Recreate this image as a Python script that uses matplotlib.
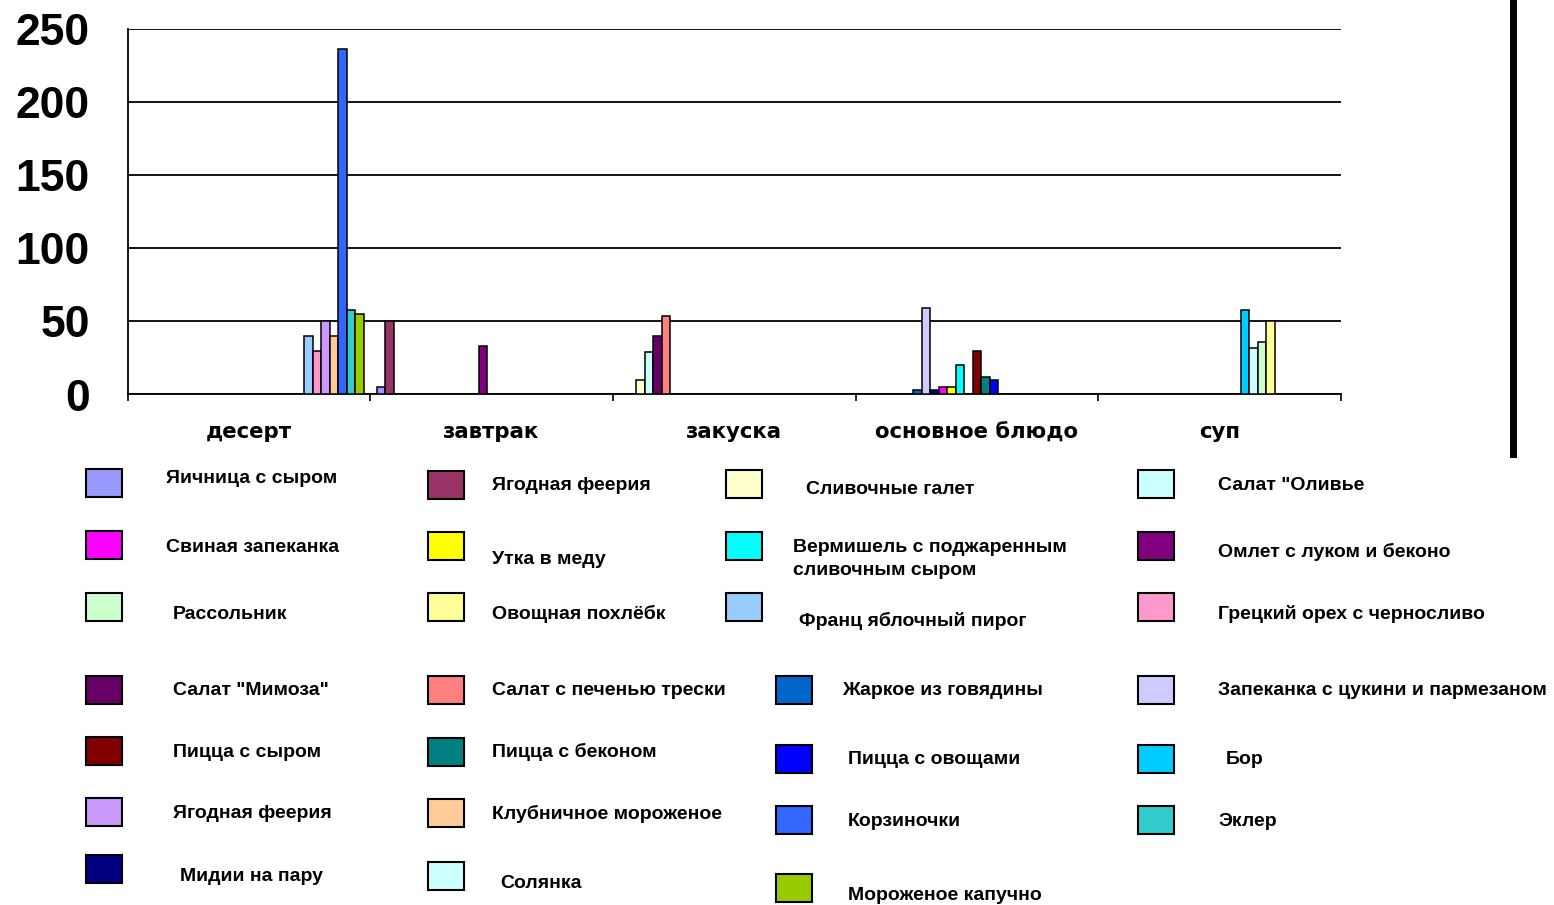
import numpy as np
import matplotlib
matplotlib.use("Agg")
import matplotlib.pyplot as plt
from matplotlib.patches import Rectangle
from matplotlib.ticker import FixedLocator

# ---------------- data ----------------
categories = ["десерт", "завтрак", "закуска", "основное блюдо", "суп"]

series_names = [
    "Яичница с сыром", "Ягодная феерия", "Сливочные галет", 'Салат "Оливье',
    'Салат "Мимоза"', "Салат с печенью трески", "Жаркое из говядины",
    "Запеканка с цукини и пармезаном", "Мидии на пару", "Свиная запеканка",
    "Утка в меду", "Вермишель с поджаренным\nсливочным сыром",
    "Омлет с луком и беконо", "Пицца с сыром", "Пицца с беконом",
    "Пицца с овощами", "Бор", "Солянка", "Рассольник", "Овощная похлёбк",
    "Франц яблочный пирог", "Грецкий орех с черносливо", "Ягодная феерия",
    "Клубничное мороженое", "Корзиночки", "Эклер", "Мороженое капучно",
]

series_colors = [
    "#9999FF", "#993366", "#FFFFCC", "#CCFFFF", "#660066", "#FF8080",
    "#0066CC", "#CCCCFF", "#000080", "#FF00FF", "#FFFF00", "#00FFFF",
    "#800080", "#800000", "#008080", "#0000FF", "#00CCFF", "#CCFFFF",
    "#CCFFCC", "#FFFF99", "#99CCFF", "#FF99CC", "#CC99FF", "#FFCC99",
    "#3366FF", "#33CCCC", "#99CC00",
]

# values per series: [десерт, завтрак, закуска, основное блюдо, суп]
series_values = [
    [0, 5, 0, 0, 0],
    [0, 50, 0, 0, 0],
    [0, 0, 10, 0, 0],
    [0, 0, 29, 0, 0],
    [0, 0, 40, 0, 0],
    [0, 0, 54, 0, 0],
    [0, 0, 0, 3, 0],
    [0, 0, 0, 59, 0],
    [0, 0, 0, 3, 0],
    [0, 0, 0, 5, 0],
    [0, 0, 0, 5, 0],
    [0, 0, 0, 20, 0],
    [0, 33, 0, 0, 0],
    [0, 0, 0, 30, 0],
    [0, 0, 0, 12, 0],
    [0, 0, 0, 10, 0],
    [0, 0, 0, 0, 58],
    [0, 0, 0, 0, 32],
    [0, 0, 0, 0, 36],
    [0, 0, 0, 0, 50],
    [40, 0, 0, 0, 0],
    [30, 0, 0, 0, 0],
    [50, 0, 0, 0, 0],
    [40, 0, 0, 0, 0],
    [236, 0, 0, 0, 0],
    [58, 0, 0, 0, 0],
    [55, 0, 0, 0, 0],
]

y_ticks = [0, 50, 100, 150, 200, 250]

# legend: series index per column (as arranged in the picture)
legend_columns = [
    [0, 9, 18, 4, 13, 22, 8],
    [1, 10, 19, 5, 14, 23, 17],
    [2, 11, 20, 6, 15, 24, 26],
    [3, 12, 21, 7, 16, 25],
]

# ---------------- layout (pixels) ----------------
W, H = 1554, 905
legend_layout = [
    # (swatch x list, swatch y-centre list, text x list, text y list)
    ([86] * 7, [483, 545, 607, 690, 751, 812, 869],
     [166, 166, 173, 173, 173, 173, 180], [478, 547, 614, 690, 752, 813, 876]),
    ([428] * 7, [485, 546, 607, 690, 752, 813, 876],
     [492, 492, 492, 492, 492, 492, 500], [485, 560, 614, 690, 752, 814, 883]),
    ([726, 726, 726, 776, 776, 776, 776], [484, 546, 607, 690, 759, 820, 888],
     [806, 793, 799, 842, 848, 848, 848], [490, 559, 621, 690, 759, 821, 895]),
    ([1138] * 6, [484, 546, 607, 690, 759, 820],
     [1218, 1218, 1218, 1218, 1226, 1218], [485, 552, 614, 690, 759, 821]),
]

def fx(px):
    return px / W

def fy(py):
    return 1 - py / H

fig = plt.figure(figsize=(W / 100, H / 100), dpi=100)
ax = fig.add_axes([fx(127.5), fy(394.5), (1341 - 127.5) / W, (394.5 - 29) / H])

n = len(series_names)
gap = 1.5
w = 1.0 / (n + gap)
base = np.arange(len(categories))
for i in range(n):
    x = base + gap * w / 2 + i * w
    ax.bar(x, series_values[i], width=w, align="edge",
           color=series_colors[i], edgecolor="black", linewidth=1.1, zorder=3)

ax.set_xlim(0, len(categories))
ax.set_ylim(0, 250)
ax.set_yticks(y_ticks)
ax.set_yticklabels([str(t) for t in y_ticks], fontsize=32, fontweight="bold",
                   family="Liberation Sans")
ax.tick_params(axis="y", length=0, pad=27)
ax.yaxis.grid(True, color="black", linewidth=1.3, zorder=1)
ax.set_axisbelow(True)

ax.set_xticks(base + 0.5)
ax.set_xticklabels(categories, fontsize=15.3, fontweight="bold", family="DejaVu Sans")
ax.tick_params(axis="x", which="major", length=0, pad=20)
ax.xaxis.set_minor_locator(FixedLocator(np.arange(len(categories) + 1)))
ax.tick_params(axis="x", which="minor", length=5, width=1.2, color="black", direction="out")

for s in ["top", "right"]:
    ax.spines[s].set_visible(False)
for s in ["left", "bottom"]:
    ax.spines[s].set_color("black")
    ax.spines[s].set_linewidth(1.3)

# legend (drawn manually to match the irregular arrangement)
sw_w, sw_h = 36, 28
for col, lay in zip(legend_columns, legend_layout):
    sxs, sys_, txs, tys = lay
    for k, idx in enumerate(col):
        rect = Rectangle((fx(sxs[k]), fy(sys_[k] + sw_h / 2)), sw_w / W, sw_h / H,
                         facecolor=series_colors[idx], edgecolor="black",
                         linewidth=1.5, transform=fig.transFigure)
        fig.add_artist(rect)
        fig.text(fx(txs[k]), fy(tys[k]), series_names[idx], ha="left", va="center",
                 fontsize=14, fontweight="bold", family="Liberation Sans",
                 linespacing=1.45)

# thick vertical line at right
fig.add_artist(Rectangle((fx(1510), fy(458)), 7 / W, 458 / H, facecolor="black",
                         edgecolor="none", transform=fig.transFigure))

fig.savefig("out.png", dpi=100, facecolor="white")
